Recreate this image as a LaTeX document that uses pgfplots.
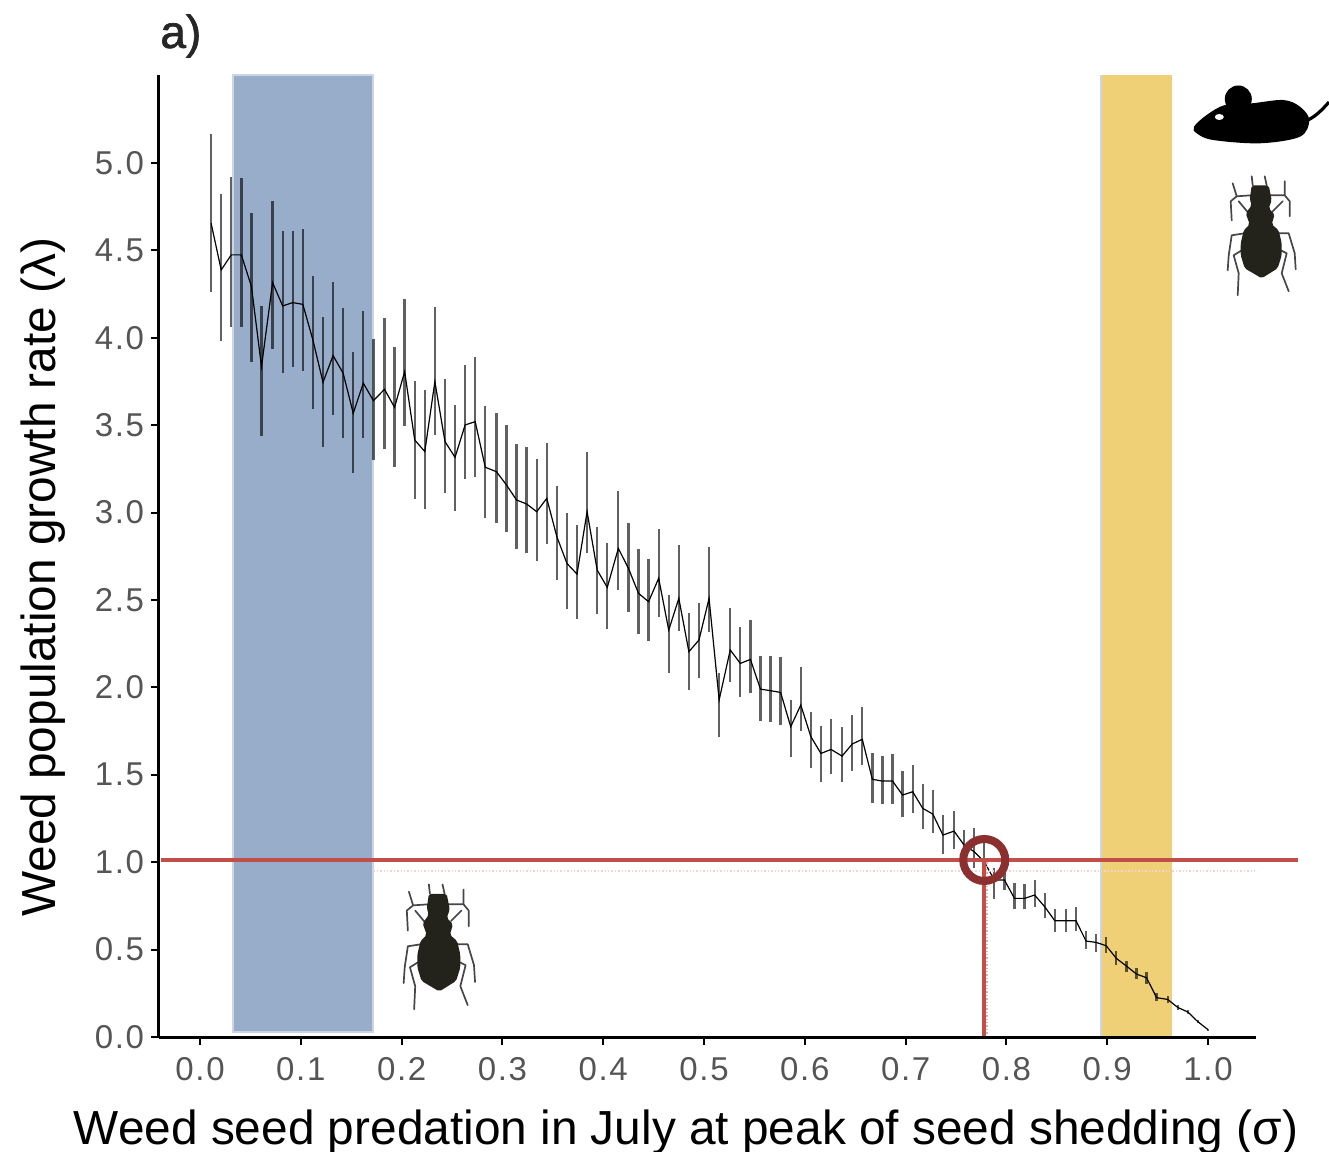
\documentclass[border=0pt]{standalone}
\usepackage{fontspec}
\setmainfont{Liberation Sans}
\newfontfamily\tickfont[LetterSpace=5]{Liberation Sans}
\newfontfamily\panelfont[FakeBold=1.5]{Liberation Sans}
\usepackage{pgfplots}
\usepackage{pgfplotstable}
\pgfplotsset{compat=1.18}

\definecolor{bandblue}{HTML}{98ADC9}
\definecolor{bandedge}{HTML}{CBD5E3}
\definecolor{bandyellow}{HTML}{F0D077}
\definecolor{redline}{HTML}{C24E4A}
\definecolor{redring}{HTML}{8B2F2F}
\definecolor{ticktext}{HTML}{555555}
\definecolor{beetlecol}{HTML}{23231C}

% x, mean, lower end, upper end of the bar
\pgfplotstableread{
x y lo hi
0.011 4.655 4.264 5.166
0.021 4.388 3.982 4.823
0.031 4.474 4.064 4.922
0.041 4.474 4.064 4.914
0.051 4.293 3.863 4.712
0.061 3.835 3.438 4.184
0.072 4.315 3.936 4.783
0.082 4.182 3.797 4.611
0.092 4.201 3.835 4.611
0.102 4.191 3.812 4.621
0.112 3.987 3.595 4.354
0.122 3.745 3.377 4.117
0.132 3.898 3.560 4.317
0.142 3.797 3.429 4.172
0.152 3.568 3.225 3.919
0.162 3.740 3.429 4.153
0.172 3.640 3.301 3.991
0.183 3.705 3.362 4.111
0.193 3.602 3.259 3.949
0.203 3.806 3.495 4.222
0.213 3.415 3.076 3.751
0.223 3.349 3.019 3.699
0.233 3.749 3.444 4.178
0.243 3.406 3.110 3.766
0.253 3.316 3.011 3.617
0.263 3.501 3.194 3.842
0.273 3.520 3.206 3.892
0.283 3.259 2.967 3.609
0.294 3.234 2.942 3.571
0.304 3.158 2.891 3.501
0.314 3.072 2.789 3.390
0.324 3.049 2.770 3.375
0.334 3.005 2.723 3.306
0.344 3.081 2.818 3.396
0.354 2.862 2.614 3.152
0.364 2.709 2.448 2.995
0.374 2.648 2.389 2.929
0.384 3.005 2.767 3.346
0.394 2.671 2.420 2.919
0.404 2.572 2.332 2.828
0.415 2.795 2.557 3.123
0.425 2.681 2.429 2.938
0.435 2.538 2.303 2.791
0.445 2.490 2.265 2.734
0.455 2.624 2.404 2.904
0.465 2.328 2.080 2.528
0.475 2.509 2.322 2.812
0.485 2.204 1.985 2.423
0.495 2.271 2.052 2.484
0.505 2.509 2.318 2.801
0.515 1.928 1.718 2.080
0.526 2.214 2.029 2.452
0.536 2.137 1.943 2.343
0.546 2.160 1.969 2.385
0.556 1.990 1.807 2.181
0.566 1.981 1.800 2.181
0.576 1.971 1.785 2.175
0.586 1.775 1.600 1.928
0.596 1.899 1.750 2.114
0.606 1.718 1.537 1.861
0.616 1.622 1.458 1.781
0.626 1.645 1.504 1.821
0.637 1.607 1.458 1.773
0.647 1.676 1.523 1.842
0.657 1.703 1.556 1.889
0.667 1.474 1.340 1.622
0.677 1.464 1.331 1.607
0.687 1.464 1.331 1.621
0.697 1.384 1.256 1.520
0.707 1.403 1.279 1.554
0.717 1.308 1.190 1.445
0.727 1.275 1.165 1.413
0.737 1.155 1.047 1.270
0.748 1.178 1.073 1.294
0.758 1.098 1.003 1.184
0.768 1.060 0.965 1.193
0.778 1.003 0.917 1.108
0.788 0.898 0.787 0.965
0.798 0.898 0.841 0.965
0.808 0.793 0.730 0.879
0.818 0.793 0.730 0.875
0.828 0.812 0.745 0.898
0.838 0.745 0.679 0.825
0.848 0.665 0.602 0.730
0.859 0.665 0.602 0.730
0.869 0.665 0.608 0.741
0.879 0.549 0.505 0.608
0.889 0.541 0.488 0.589
0.899 0.522 0.478 0.574
0.909 0.450 0.412 0.494
0.919 0.406 0.370 0.434
0.929 0.360 0.331 0.392
0.939 0.339 0.303 0.373
0.949 0.225 0.207 0.250
0.960 0.215 0.196 0.234
0.970 0.169 0.154 0.183
0.980 0.143 0.129 0.154
0.990 0.087 0.078 0.097
1.000 0.042 0.036 0.045
}\growth

% silhouette, local unit = one reference pixel, origin between the antennae
\newcommand{\beetle}{%
  \draw[gray!55!black,line width=0.85pt,line join=round,line cap=round]
    (-8,2)--(-9,-7) (6,2)--(4,-7)
    (-9,12)--(-24,13)--(-28,0) (-24,13)--(-30,18)--(-29,37) (-22,18)--(-12,30)
    (9,12)--(24,12)--(24,-2) (24,12)--(29,18)--(29,33) (22,18)--(12,28)
    (-16,50)--(-29,52)--(-32,72)--(-33,87) (-19,67)--(-27,72)--(-22,90)--(-23,112)
    (16,50)--(28,50)--(34,70)--(35,86) (20,67)--(26,70)--(21,90)--(28,108);
  \fill[beetlecol,rounded corners=1pt]
    (-9,2)--(8,2)--(11,17)--(8,25)--(14,31)--(11,41)--(18,47)--(21,60)--(21,72)
    --(17,85)--(1,95)--(-16,85)--(-20,72)--(-20,60)--(-17,47)--(-11,41)
    --(-15,30)--(-9,22)--(-11,16)--cycle;
}

\begin{document}
\begin{tikzpicture}
% page of 1329x1152 reference pixels, 0.5pt each, axis corner at (159,1037)
\path[use as bounding box] (-79.5pt,-57.5pt) rectangle (585pt,518.5pt);
\begin{axis}[
    scale only axis,
    width=548.5pt,
    height=481pt,
    clip=false,
    axis on top,
    xmin=-0.0407, xmax=1.0476,
    ymin=0, ymax=5.503,
    axis x line*=bottom,
    axis y line*=left,
    axis line style={line width=1.5pt,-},
    tick align=outside,
    major tick length=4pt,
    tick style={line width=1pt,black},
    xtick={0,0.1,0.2,0.3,0.4,0.5,0.6,0.7,0.8,0.9,1.0},
    ytick={0,0.5,1,1.5,2,2.5,3,3.5,4,4.5,5},
    tick label style={font=\tickfont\fontsize{16.5}{20}\selectfont,text=ticktext},
    xticklabel style={yshift=-2.5pt},
    /pgf/number format/assume math mode=true,
    /pgf/number format/fixed,
    /pgf/number format/zerofill,
    /pgf/number format/precision=1,
    xlabel={Weed seed predation in July at peak of seed shedding (σ)},
    ylabel={Weed population growth rate (λ)},
    every axis x label/.style={at={(axis description cs:0.4804,-0.0985)},anchor=center,font=\fontsize{23.9}{28}\selectfont},
    every axis y label/.style={at={(axis description cs:-0.1057,0.478)},anchor=center,rotate=90,font=\fontsize{23.9}{28}\selectfont},
]
\addplot[fill=bandblue,draw=bandedge,line width=1pt] coordinates {(0.0327,0.03)(0.1716,0.03)(0.1716,5.503)(0.0327,5.503)} --cycle;
\addplot[fill=bandyellow,draw=none] coordinates {(0.894,0)(0.964,0)(0.964,5.503)(0.894,5.503)} --cycle;
\addplot[bandedge,line width=0.8pt] coordinates {(0.894,0)(0.894,5.503)};

\addplot[black,line width=0.6pt,
    error bars/.cd,y dir=both,y explicit,error mark=none,
    error bar style={black,opacity=0.62,line width=1.15pt}]
    table[x=x,y=y,y error plus expr=\thisrow{hi}-\thisrow{y},y error minus expr=\thisrow{y}-\thisrow{lo}] {\growth};

\addplot[redline!25,densely dotted,line width=0.7pt] coordinates {(0.172,0.95)(1.047,0.95)};
\addplot[redline!45,densely dotted,line width=0.7pt] coordinates {(0.7807,0)(0.7807,1)};
\addplot[redline,line width=1.7pt] coordinates {(-0.039,1.0126)(1.089,1.0126)};
\addplot[redline,line width=2pt] coordinates {(0.778,0)(0.778,1.0126)};
\addplot[only marks,mark=o,mark size=10.5pt,mark options={draw=redring,line width=4pt,fill=none}] coordinates {(0.778,1.0126)};
\end{axis}

% panel letter and silhouettes, in reference pixels
\begin{scope}[x=0.5pt,y=-0.5pt,shift={(-79.5pt,518.5pt)}]
\node[anchor=west,inner sep=0pt,text=black!85,font=\panelfont\fontsize{23}{26}\selectfont] at (160,36) {a)};
\fill[black] plot[smooth cycle,tension=0.55] coordinates {
  (1194,126.7)(1206.7,115)(1225,105)(1252,103.3)
  (1283.3,100)(1300,106.7)(1309.3,120)(1300,136.7)(1260,143.3)(1213,140)(1196.7,133.3)};
\fill[black] (1238.3,99) circle (13.5);
\draw[black,line width=1.6pt] (1308,120) .. controls (1316,116) and (1322,110) .. (1329,102);
\fill[white] (1219.3,117) ellipse (4.5 and 3);
\begin{scope}[shift={(1260.7,183.3)}]
\beetle
\end{scope}
\begin{scope}[shift={(438.3,891.7)},scale=1.05]
\beetle
\end{scope}
\end{scope}
\end{tikzpicture}
\end{document}
